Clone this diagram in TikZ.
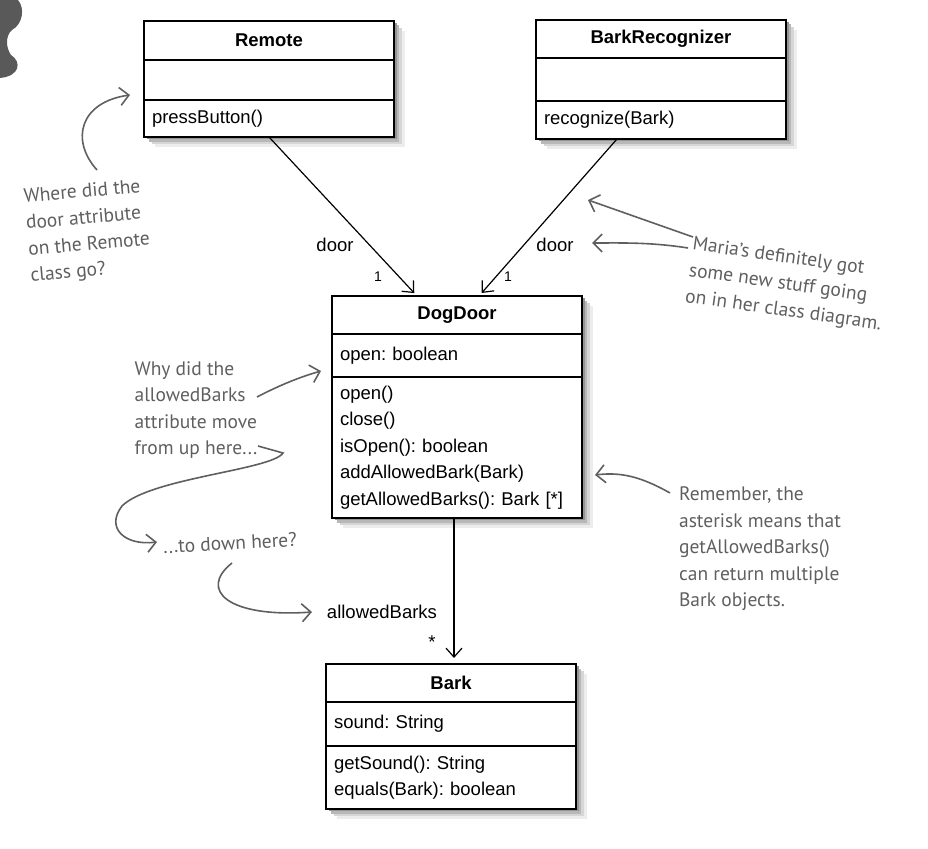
\documentclass[tikz,border=0pt]{standalone}
\usepackage{fontspec}
\setmainfont{Liberation Sans}
\newfontfamily\handfont{PT Sans}
\usepackage{tikz}
\usetikzlibrary{arrows.meta, positioning}
\frenchspacing

\definecolor{pencil}{RGB}{95,95,95}

\tikzset{
  part/.style={draw, line width=1.5pt, fill=white, outer sep=0pt, text width=234pt, inner xsep=8pt, inner ysep=2pt, align=left,
    font=\fontsize{18.5}{26.5}\selectfont},
  cname/.style={part, align=center, anchor=north west, font=\fontsize{18.5}{22}\selectfont\bfseries},
  assoc/.style={line width=1.2pt, -{Straight Barb[length=9pt,width=16pt,line width=1.2pt]}},
  lbl/.style={font=\fontsize{18.5}{22}\selectfont, inner sep=1pt},
  mult/.style={font=\fontsize{14}{16}\selectfont, inner sep=1pt},
  note/.style={text=pencil, font=\handfont\fontsize{19.5}{26.5}\selectfont, align=left, inner sep=0pt},
  scrawl/.style={draw=pencil, line width=1.6pt, -{Straight Barb[length=9pt,width=18pt,line width=1.6pt]}}
}

\begin{document}
\begin{tikzpicture}[x=1pt, y=-1pt]
    \useasboundingbox (0,0) rectangle (928,848);

    % corner of the dog picture
    \fill[black!65] (0,0) -- (18,0) .. controls (25,8) and (23,24) .. (12,30)
        .. controls (5,36) and (6,48) .. (11,55) .. controls (22,62) and (20,76) .. (0,78) -- cycle;

    % soft shadows behind the classes
    \foreach \lx/\ty/\rx/\by in {144/21/394/137, 536/20/786/139, 332/296/582/518, 326/664/576/809} {
        \fill[black!7] (\lx+11,\ty+10) rectangle (\rx+11,\by+10);
        \fill[black!16] (\lx+8,\ty+7) rectangle (\rx+8,\by+7);
        \fill[black!28] (\lx+5,\ty+4.5) rectangle (\rx+5,\by+4.5);
        \fill[black!42] (\lx+2.5,\ty+2) rectangle (\rx+2.5,\by+2);
    }

    % classes
    \node [cname, minimum height=39pt] (remote) at (144,21) {Remote};
    \node [part, below=0pt of remote, minimum height=40pt] (remoteattr) {};
    \node [part, below=0pt of remoteattr, minimum height=37pt] (remoteops) {pressButton()};

    \node [cname, minimum height=38pt] (barkrec) at (536,20) {BarkRecognizer};
    \node [part, below=0pt of barkrec, minimum height=43pt] (barkrecattr) {};
    \node [part, below=0pt of barkrecattr, minimum height=38pt] (barkrecops) {recognize(Bark)};

    \node [cname, minimum height=38pt] (dogdoor) at (332,296) {DogDoor};
    \node [part, below=0pt of dogdoor, minimum height=43pt] (dogattr) {open: boolean};
    \node [part, below=0pt of dogattr, minimum height=141pt] (dogops)
        {open()\\close()\\isOpen(): boolean\\addAllowedBark(Bark)\\getAllowedBarks(): Bark [*]};

    \node [cname, minimum height=38pt] (bark) at (326,664) {Bark};
    \node [part, below=0pt of bark, minimum height=44pt] (barkattr) {sound: String};
    \node [part, below=0pt of barkattr, minimum height=63pt] (barkops)
        {getSound(): String\\equals(Bark): boolean};

    % associations
    \draw [assoc, shorten >=4pt] (remoteops.south) -- ([xshift=85pt]dogdoor.north west);
    \draw [assoc, shorten >=4pt] ([xshift=81pt]barkrecops.south west) -- ([xshift=147pt]dogdoor.north west);
    \draw [assoc, shorten >=6pt] ([xshift=-3pt]dogops.south) -- ([xshift=3pt]bark.north);

    \node [lbl] (remotedoor) at (335,245) {door};
    \node [mult] (remoteone) at (378,277) {1};
    \node [lbl] (barkrecdoor) at (555,245) {door};
    \node [mult] (barkrecone) at (508,277) {1};
    \node [lbl] (allowed) at (382,612) {allowedBarks};
    \node [lbl] (many) at (432,642) {*};

    % handwritten notes
    \node [note, rotate=5] (wherenote) at (88,232) {Where did the\\door attribute\\on the Remote\\class go?};
    \node [note, rotate=-8] (marianote) at (787,285) {Maria’s definitely got\\some new stuff going\\on in her class diagram.};
    \node [note] (whynote) at (196,410) {Why did the\\allowedBarks\\attribute move\\from up here...};
    \node [note, rotate=3] (downnote) at (230,543) {...to down here?};
    \node [note] (remnote) at (760,549) {Remember, the\\asterisk means that\\getAllowedBarks()\\can return multiple\\Bark objects.};

    \coordinate (wherefrom) at (97,170);
    \coordinate (whereto) at (130,95);
    \coordinate (mariafromA) at (693,237);
    \coordinate (mariatoA) at (588,200);
    \coordinate (mariafromB) at (688,248);
    \coordinate (mariatoB) at (592,243);
    \coordinate (whyfrom) at (257,397);
    \coordinate (whyto) at (321,371);
    \coordinate (movefrom) at (258,446);
    \coordinate (moveto) at (157,542);
    \coordinate (downfrom) at (232,563);
    \coordinate (downto) at (312,612);
    \coordinate (remfrom) at (670,493);
    \coordinate (remto) at (595,475);

    \draw [scrawl] (wherefrom) .. controls (70,140) and (80,102) .. (whereto);
    \draw [scrawl] (mariafromA) -- (mariatoA);
    \draw [scrawl] (mariafromB) .. controls (650,242) and (620,243) .. (mariatoB);
    \draw [scrawl] (whyfrom) .. controls (280,385) and (300,377) .. (whyto);
    \draw [scrawl] (movefrom) -- (283,453) .. controls (272,470) and (150,478) .. (122,506)
        .. controls (105,528) and (125,546) .. (moveto);
    \draw [scrawl] (downfrom) .. controls (198,590) and (228,618) .. (downto);
    \draw [scrawl] (remfrom) .. controls (640,476) and (620,472) .. (remto);
\end{tikzpicture}
\end{document}
